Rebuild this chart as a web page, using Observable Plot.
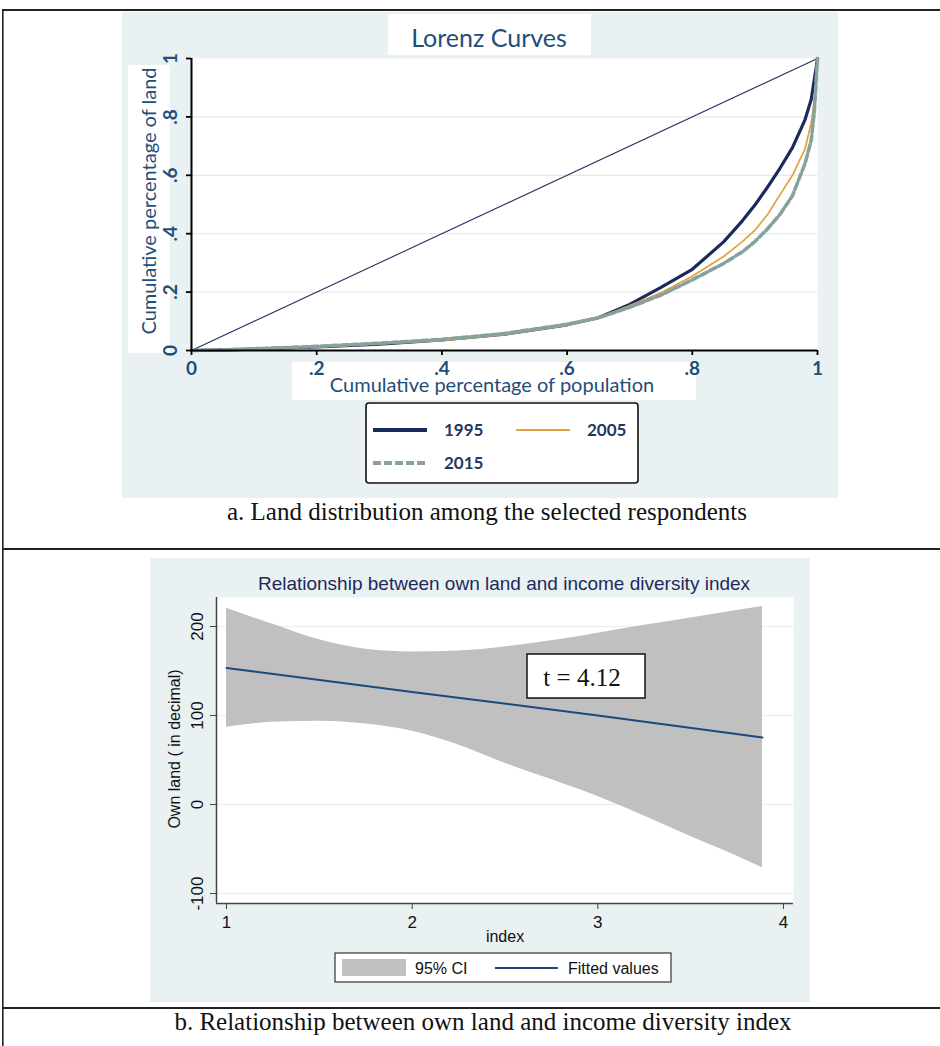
<!DOCTYPE html>
<html>
<head>
<meta charset="utf-8">
<script src="https://cdn.jsdelivr.net/npm/d3@7"></script>
<script src="https://cdn.jsdelivr.net/npm/@observablehq/plot@0.6"></script>
<style>
  html, body { margin: 0; padding: 0; background: #ffffff; }
  #page { position: relative; width: 940px; height: 1046px; overflow: hidden; background: #ffffff; }
  #page > svg { position: absolute; }
</style>
</head>
<body>
<div id="page"></div>
<script>
// ---------------- Panel a: Lorenz curves ----------------
const popShare = [0, 0.05, 0.1, 0.2, 0.3, 0.4, 0.5, 0.6, 0.65, 0.7, 0.75, 0.8, 0.85, 0.88, 0.9, 0.92, 0.94, 0.96, 0.98, 0.99, 0.995, 0.998, 1];
const land1995 = [0, 0.002, 0.005, 0.012, 0.022, 0.036, 0.056, 0.088, 0.112, 0.158, 0.216, 0.278, 0.372, 0.444, 0.498, 0.559, 0.624, 0.695, 0.79, 0.86, 0.93, 0.97, 1];
const land2005 = [0, 0.002, 0.005, 0.012, 0.023, 0.034, 0.054, 0.086, 0.111, 0.154, 0.198, 0.254, 0.322, 0.373, 0.412, 0.465, 0.533, 0.60, 0.69, 0.78, 0.86, 0.92, 1];
const land2015 = [0, 0.002, 0.006, 0.014, 0.025, 0.038, 0.058, 0.09, 0.112, 0.148, 0.19, 0.242, 0.298, 0.338, 0.373, 0.416, 0.466, 0.53, 0.64, 0.72, 0.82, 0.93, 1];
const equalityShare = [0, 1];
const lorenzYears = ["1995", "2005", "2015"];
const lorenzTicks = [0, 0.2, 0.4, 0.6, 0.8, 1];
const lorenzTickLabels = ["0", ".2", ".4", ".6", ".8", "1"];

// ---------------- Panel b: own land vs income diversity index ----------------
const ciIndex = [1.0, 1.25, 1.5, 1.75, 2.0, 2.25, 2.5, 2.75, 3.0, 3.25, 3.5, 3.75, 3.887];
const ciUpper = [220.6, 202.5, 185, 174.5, 171.5, 172.5, 177, 184, 192.5, 201.4, 209.7, 218, 222.6];
const ciLower = [86.9, 92.3, 93.6, 90.5, 82.4, 67, 46.5, 28, 9, -13, -36, -58, -71.1];
const fitIndex = [1.0, 2.0, 3.0, 3.887];
const fitValue = [153.4, 126.5, 100, 75.4];
const indexTicks = [1, 2, 3, 4];
const landTicks = [-100, 0, 100, 200];
const indexDomain = [0.946, 4.054];
const landDomain = [-111.2, 232.6];
const tStat = "t = 4.12";

// colours
const C1995 = "#1b2a5c", C2005 = "#e3a23b", C2015 = "#86a29b", CEQ = "#22325e";
const BLUE_TXT = "#1f4e79";
const BG = "#eaf1f3";
const NAVY = "#1a4a7c";
const BAND = "#c0c0c0";

const page = d3.select("#page");

// ---------- bottom layer: panel backgrounds, white label boxes, axis titles ----------
const under = page.append("svg").attr("width", 940).attr("height", 1046).style("left", "0px").style("top", "0px");
under.append("rect").attr("x", 122).attr("y", 12).attr("width", 716).attr("height", 486).attr("fill", BG);
under.append("rect").attr("x", 150).attr("y", 558).attr("width", 660).attr("height", 444).attr("fill", BG);
under.append("rect").attr("x", 388).attr("y", 14).attr("width", 203).attr("height", 41).attr("fill", "#fff");
under.append("rect").attr("x", 128).attr("y", 65).attr("width", 42).attr("height", 288).attr("fill", "#fff");
under.append("rect").attr("x", 292).attr("y", 362).attr("width", 404).attr("height", 38).attr("fill", "#fff");
under.append("text").attr("x", 489).attr("y", 47).attr("text-anchor", "middle")
  .attr("font-family", "Lato").attr("font-size", 25).attr("fill", BLUE_TXT).text("Lorenz Curves");
under.append("text").attr("transform", "translate(156,201) rotate(-90)").attr("text-anchor", "middle")
  .attr("font-family", "Lato").attr("font-size", 20).attr("fill", BLUE_TXT).text("Cumulative percentage of land");
under.append("text").attr("x", 492).attr("y", 392).attr("text-anchor", "middle")
  .attr("font-family", "Lato").attr("font-size", 20).attr("fill", BLUE_TXT).text("Cumulative percentage of population");
under.append("text").attr("x", 504).attr("y", 590).attr("text-anchor", "middle")
  .attr("font-family", "Liberation Sans").attr("font-size", 19).attr("fill", "#1c2a5c")
  .text("Relationship between own land and income diversity index");
under.append("text").attr("transform", "translate(180,749) rotate(-90)").attr("text-anchor", "middle")
  .attr("font-family", "Liberation Sans").attr("font-size", 16).attr("fill", "#111").text("Own land ( in decimal)");
under.append("text").attr("x", 505).attr("y", 942).attr("text-anchor", "middle")
  .attr("font-family", "Liberation Sans").attr("font-size", 16).attr("fill", "#111").text("index");

// ---------- Plot a ----------
const lorenzRows = shares => popShare.map((p, i) => ({p, s: shares[i]}));
const eqRows = equalityShare.map(v => ({p: v, s: v}));
const fmtLorenz = d => lorenzTickLabels[lorenzTicks.indexOf(d)];

const plotA = Plot.plot({
  width: 716, height: 368,
  marginLeft: 69, marginRight: 21, marginTop: 46, marginBottom: 30,
  x: {domain: [0, 1]},
  y: {domain: [0, 1]},
  style: "background: transparent; overflow: visible;",
  marks: [
    Plot.frame({fill: "#ffffff", stroke: null}),
    Plot.gridY(lorenzTicks.slice(1, -1), {stroke: "#e6e9ea", strokeOpacity: 1, strokeWidth: 1.2}),
    Plot.line(eqRows, {x: "p", y: "s", stroke: CEQ, strokeWidth: 1.1}),
    Plot.line(lorenzRows(land1995), {x: "p", y: "s", stroke: C1995, strokeWidth: 3.2}),
    Plot.line(lorenzRows(land2005), {x: "p", y: "s", stroke: C2005, strokeWidth: 1.7}),
    Plot.line(lorenzRows(land2015), {x: "p", y: "s", stroke: C2015, strokeWidth: 3.6, strokeDasharray: "7,3"}),
    Plot.ruleX([0], {stroke: "#000", strokeWidth: 2}),
    Plot.ruleY([0], {stroke: "#000", strokeWidth: 2}),
    Plot.axisX(lorenzTicks, {tickSize: 5, text: null, stroke: "#000", strokeWidth: 1.8, label: null}),
    Plot.axisX(lorenzTicks, {tickSize: 0, tickPadding: 11, tickFormat: fmtLorenz, color: BLUE_TXT,
      fontSize: 19, fontWeight: "bold", fontFamily: "Lato", label: null}),
    Plot.axisY(lorenzTicks, {tickSize: 5, text: null, stroke: "#000", strokeWidth: 1.8, label: null}),
    Plot.axisY(lorenzTicks, {tickSize: 0, tickPadding: 15, tickRotate: -90, textAnchor: "middle", lineAnchor: "bottom",
      tickFormat: fmtLorenz, color: BLUE_TXT, fontSize: 19, fontWeight: "bold", fontFamily: "Lato", label: null})
  ]
});
d3.select(plotA).selectAll("text")
  .style("font-family", "Lato, sans-serif").style("font-size", "19px").style("font-weight", "bold");
plotA.style.position = "absolute";
plotA.style.left = "122px";
plotA.style.top = "12px";
document.getElementById("page").appendChild(plotA);

// ---------- Plot b ----------
const ciRows = ciIndex.map((x, i) => ({index: x, lower: ciLower[i], upper: ciUpper[i]}));
const fitRows = fitIndex.map((x, i) => ({index: x, value: fitValue[i]}));

const plotB = Plot.plot({
  width: 660, height: 390,
  marginLeft: 66, marginRight: 17, marginTop: 37, marginBottom: 47,
  x: {domain: indexDomain},
  y: {domain: landDomain},
  style: "background: transparent; overflow: visible;",
  marks: [
    Plot.frame({fill: "#ffffff", stroke: null}),
    Plot.gridY(landTicks, {stroke: BG, strokeOpacity: 1, strokeWidth: 1.6}),
    Plot.areaY(ciRows, {x: "index", y1: "lower", y2: "upper", fill: BAND, curve: "monotone-x"}),
    Plot.line(fitRows, {x: "index", y: "value", stroke: NAVY, strokeWidth: 2}),
    Plot.ruleX([indexDomain[0]], {stroke: "#444", strokeWidth: 1.5}),
    Plot.ruleY([landDomain[0]], {stroke: "#444", strokeWidth: 1.5}),
    Plot.axisX(indexTicks, {tickSize: 6, tickPadding: 6, stroke: "#444", tickFormat: d => String(d),
      fontSize: 17, fontFamily: "Liberation Sans", label: null}),
    Plot.axisY(landTicks, {tickSize: 6, tickPadding: 8, stroke: "#444", tickRotate: -90, textAnchor: "middle",
      lineAnchor: "bottom", tickFormat: d => String(d), fontSize: 17, fontFamily: "Liberation Sans", label: null})
  ]
});
d3.select(plotB).selectAll("text")
  .style("font-family", "'Liberation Sans', Arial, sans-serif").style("font-size", "17px").style("fill", "#111");
plotB.style.position = "absolute";
plotB.style.left = "150px";
plotB.style.top = "560px";
document.getElementById("page").appendChild(plotB);

// ---------- top layer: legends, annotation, captions, table rules ----------
const over = page.append("svg").attr("width", 940).attr("height", 1046).style("left", "0px").style("top", "0px")
  .style("pointer-events", "none");

over.append("rect").attr("x", 2).attr("y", 9).attr("width", 938).attr("height", 2).attr("fill", "#222");
over.append("rect").attr("x", 2).attr("y", 9).attr("width", 1.6).attr("height", 1037).attr("fill", "#222");
over.append("rect").attr("x", 2).attr("y", 548).attr("width", 938).attr("height", 2).attr("fill", "#222");
over.append("rect").attr("x", 2).attr("y", 1007).attr("width", 938).attr("height", 2).attr("fill", "#222");

// legend a
over.append("rect").attr("x", 366).attr("y", 403).attr("width", 272).attr("height", 80).attr("rx", 3)
  .attr("fill", "#fff").attr("stroke", "#111").attr("stroke-width", 1.6);
const legA = [
  {year: lorenzYears[0], x: 373, y: 430, stroke: C1995, w: 4, dash: null},
  {year: lorenzYears[1], x: 516, y: 430, stroke: C2005, w: 2, dash: null},
  {year: lorenzYears[2], x: 373, y: 463, stroke: C2015, w: 4, dash: "8,3"}
];
legA.forEach(d => {
  over.append("line").attr("x1", d.x).attr("x2", d.x + 54).attr("y1", d.y).attr("y2", d.y)
    .attr("stroke", d.stroke).attr("stroke-width", d.w).attr("stroke-dasharray", d.dash);
  over.append("text").attr("x", d.x + 71).attr("y", d.y + 6).attr("font-family", "Lato").attr("font-weight", "bold")
    .attr("font-size", 17).attr("fill", "#1f3864").text(d.year);
});

// caption a
over.append("text").attr("x", 487).attr("y", 520).attr("text-anchor", "middle")
  .attr("font-family", "Liberation Serif").attr("font-size", 25).attr("fill", "#111")
  .text("a. Land distribution among the selected respondents");

// t annotation
over.append("rect").attr("x", 527).attr("y", 654).attr("width", 118).attr("height", 44)
  .attr("fill", "#fff").attr("stroke", "#111").attr("stroke-width", 1.5);
over.append("text").attr("x", 582).attr("y", 686).attr("text-anchor", "middle")
  .attr("font-family", "Liberation Serif").attr("font-size", 25).attr("fill", "#111").text(tStat);

// legend b
over.append("rect").attr("x", 335).attr("y", 953).attr("width", 336).attr("height", 29)
  .attr("fill", "#fff").attr("stroke", "#333").attr("stroke-width", 1.2);
over.append("rect").attr("x", 342).attr("y", 959).attr("width", 64).attr("height", 17).attr("fill", BAND);
over.append("text").attr("x", 415).attr("y", 974).attr("font-family", "Liberation Sans").attr("font-size", 16)
  .attr("fill", "#111").text("95% CI");
over.append("line").attr("x1", 495).attr("x2", 558).attr("y1", 968).attr("y2", 968)
  .attr("stroke", NAVY).attr("stroke-width", 2);
over.append("text").attr("x", 568).attr("y", 974).attr("font-family", "Liberation Sans").attr("font-size", 16)
  .attr("fill", "#111").text("Fitted values");

// caption b
over.append("text").attr("x", 483).attr("y", 1030).attr("text-anchor", "middle")
  .attr("font-family", "Liberation Serif").attr("font-size", 25).attr("fill", "#111")
  .text("b. Relationship between own land and income diversity index");
</script>
</body>
</html>
